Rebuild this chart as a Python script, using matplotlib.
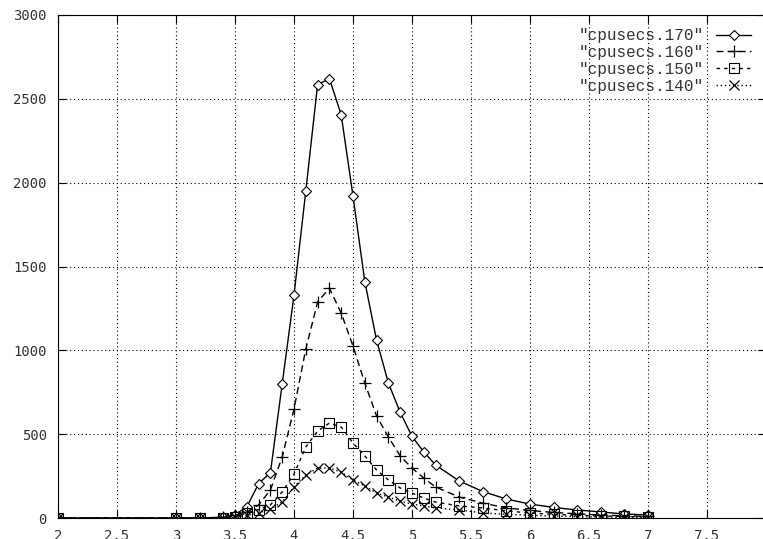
import matplotlib
matplotlib.use("Agg")
import matplotlib.pyplot as plt

# Datos
x = [2, 3, 3.2, 3.4, 3.5, 3.6, 3.7, 3.8, 3.9, 4.0, 4.1, 4.2, 4.3, 4.4, 4.5, 4.6,
     4.7, 4.8, 4.9, 5.0, 5.1, 5.2, 5.4, 5.6, 5.8, 6.0, 6.2, 6.4, 6.6, 6.8, 7.0]

cpu170 = [0, 0, 0, 5, 20, 66, 205, 270, 800, 1330, 1950, 2585, 2620, 2405, 1920, 1410,
          1060, 805, 630, 487, 394, 316, 221, 158, 113, 83, 63, 48, 36, 24, 18]
cpu160 = [0, 0, 0, 3, 15, 35, 78, 167, 364, 650, 1008, 1288, 1371, 1222, 1026, 805,
          608, 483, 370, 298, 238, 185, 125, 89, 60, 45, 33, 25, 18, 13, 10]
cpu150 = [0, 0, 0, 2, 8, 30, 50, 78, 155, 262, 423, 519, 566, 543, 447, 370,
          286, 227, 179, 149, 119, 95, 72, 60, 42, 30, 22, 16, 12, 9, 7]
cpu140 = [0, 0, 0, 1, 5, 15, 30, 54, 95, 185, 256, 298, 298, 274, 227, 191,
          149, 125, 101, 83, 72, 60, 48, 30, 22, 16, 12, 8, 6, 4, 3]

xticks = [2, 2.5, 3, 3.5, 4, 4.5, 5, 5.5, 6, 6.5, 7, 7.5]
yticks = [0, 500, 1000, 1500, 2000, 2500, 3000]

fig = plt.figure(figsize=(7.63, 5.39), dpi=100)
ax = fig.add_axes([58 / 763, 21 / 539, 708 / 763, 503 / 539])

ax.plot(x, cpu170, color='black', lw=1, ls='-', marker='D', ms=5,
        mfc='white', mec='black', mew=0.8, label='"cpusecs.170"')
ax.plot(x, cpu160, color='black', lw=1, ls=(0, (5, 3)), marker='+', ms=8,
        mew=0.9, label='"cpusecs.160"')
ax.plot(x, cpu150, color='black', lw=1, ls=(0, (2.5, 3)), marker='s', ms=6.5,
        mfc='none', mec='black', mew=0.8, label='"cpusecs.150"')
ax.plot(x, cpu140, color='black', lw=1, ls=(0, (1, 2)), marker='x', ms=6.5,
        mew=0.9, label='"cpusecs.140"')

ax.set_xlim(2, 8)
ax.set_ylim(0, 3000)
ax.set_xticks(xticks)
ax.set_yticks(yticks)
ax.set_xticklabels([f'{t:g}' for t in xticks])
ax.grid(True, color='black', lw=0.8, ls=(0, (1, 2.5)))
ax.tick_params(direction='in', length=6, top=True, right=True, pad=8,
               labelsize=10, labelcolor='#333333')
for lab in ax.get_xticklabels() + ax.get_yticklabels():
    lab.set_family('DejaVu Sans Mono')

leg = ax.legend(loc='upper right', bbox_to_anchor=(0.993, 0.993), frameon=False,
                markerfirst=False, handlelength=2.2, handletextpad=0.8,
                labelspacing=0.12, borderaxespad=0.2,
                prop={'family': 'Liberation Mono', 'size': 11.5})
for t in leg.get_texts():
    t.set_color('#333333')

fig.savefig('out.png', dpi=100)
